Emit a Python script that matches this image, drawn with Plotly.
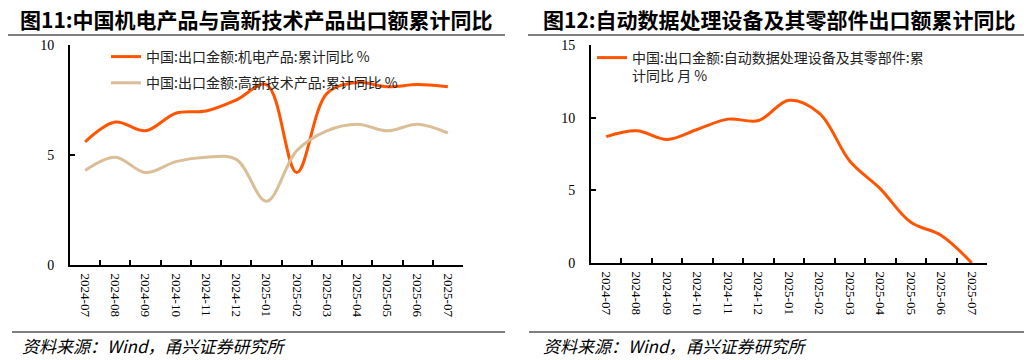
import plotly.graph_objects as go

months = ["2024-07", "2024-08", "2024-09", "2024-10", "2024-11", "2024-12",
          "2025-01", "2025-02", "2025-03", "2025-04", "2025-05", "2025-06", "2025-07"]

jidian = [5.6, 6.5, 6.1, 6.9, 7.0, 7.5, 8.2, 4.2, 7.8, 8.3, 8.1, 8.2, 8.1]
gaoxin = [4.3, 4.9, 4.2, 4.7, 4.9, 4.8, 2.9, 5.2, 6.1, 6.4, 6.1, 6.4, 6.0]
zidong = [8.7, 9.1, 8.5, 9.2, 9.9, 9.8, 11.2, 10.3, 7.0, 5.1, 2.8, 1.9, 0.0]

name1 = "中国:出口金额:机电产品:累计同比 %"
name2 = "中国:出口金额:高新技术产品:累计同比 %"
name3 = "中国:出口金额:自动数据处理设备及其零部件:累<br>计同比 月 %"

title1 = "图11:中国机电产品与高新技术产品出口额累计同比"
title2 = "图12:自动数据处理设备及其零部件出口额累计同比"
source = "资料来源：Wind，甬兴证券研究所"

ORANGE = "#FF5500"
TAN = "#D9BE97"
OFF = 8  # page body margin
W, H = 1032 - OFF, 360 - OFF
CJK = "Noto Sans CJK SC"
SERIF = "Liberation Serif"

fig = go.Figure()
fig.add_trace(go.Scatter(x=months, y=jidian, name=name1, mode="lines",
                         line=dict(color=ORANGE, width=3, shape="spline", smoothing=1.0),
                         xaxis="x", yaxis="y", legend="legend", legendgroup="a"))
fig.add_trace(go.Scatter(x=months, y=gaoxin, name=name2, mode="lines",
                         line=dict(color=TAN, width=3, shape="spline", smoothing=1.0),
                         xaxis="x", yaxis="y", legend="legend", legendgroup="b"))
fig.add_trace(go.Scatter(x=months, y=zidong, name=name3, mode="lines",
                         line=dict(color=ORANGE, width=3, shape="spline", smoothing=1.0),
                         xaxis="x2", yaxis="y2", legend="legend2"))

def px(v):
    return (v - OFF) / W

def py(v):
    return 1 - (v - OFF) / H

xcommon = dict(type="category", tickson="boundaries", ticks="inside", ticklen=5,
               tickwidth=2, tickcolor="black", showline=True, linecolor="black",
               linewidth=2, showgrid=False, zeroline=False, tickangle=90,
               range=[-0.5, 12.5], automargin=False, ticklabelstandoff=4,
               tickfont=dict(family=SERIF, size=13, color="black"), fixedrange=True)
ycommon = dict(ticks="inside", ticklen=5, tickwidth=2, tickcolor="black",
               showline=True, linecolor="black", linewidth=2, showgrid=False,
               zeroline=False, automargin=False, ticklabelstandoff=11,
               tickfont=dict(family=SERIF, size=14, color="black"),
               fixedrange=True)

fig.update_layout(
    template="none",
    width=W, height=H,
    margin=dict(l=0, r=0, t=0, b=0, pad=0, autoexpand=False),
    paper_bgcolor="white", plot_bgcolor="white",
    xaxis=dict(domain=[px(70), px(463)], anchor="y", **xcommon),
    yaxis=dict(domain=[py(265), py(45)], anchor="x", range=[0, 10],
               tickvals=[0, 5, 10], **ycommon),
    xaxis2=dict(domain=[px(591), px(987)], anchor="y2", **xcommon),
    yaxis2=dict(domain=[py(263), py(45)], anchor="x2", range=[0, 15],
                tickvals=[0, 5, 10, 15], **ycommon),
    legend=dict(x=px(106), y=py(41), xanchor="left", yanchor="top",
                bgcolor="rgba(0,0,0,0)", font=dict(family=CJK, size=14, color="#222"),
                tracegroupgap=5, traceorder="grouped"),
    legend2=dict(x=px(592), y=py(42), xanchor="left", yanchor="top",
                 bgcolor="rgba(0,0,0,0)", font=dict(family=CJK, size=14, color="#222"),
                 valign="top"),
    showlegend=True,
)

annotations = [
    dict(x=px(18), y=py(19), text="<b>" + title1 + "</b>", xanchor="left", yanchor="middle",
         font=dict(family=CJK, size=21, color="black")),
    dict(x=px(541), y=py(19), text="<b>" + title2 + "</b>", xanchor="left", yanchor="middle",
         font=dict(family=CJK, size=21, color="black")),
    dict(x=px(20), y=py(345), text="<i>" + source + "</i>", xanchor="left", yanchor="middle",
         font=dict(family=CJK, size=17, color="black")),
    dict(x=px(541), y=py(345), text="<i>" + source + "</i>", xanchor="left", yanchor="middle",
         font=dict(family=CJK, size=17, color="black")),
]
for a in annotations:
    a.update(xref="paper", yref="paper", showarrow=False)
fig.update_layout(annotations=annotations)

shapes = []
for x0, x1, y in [(8, 505, 35), (528, 1026, 35), (12, 505, 332), (529, 1026, 332)]:
    shapes.append(dict(type="line", xref="paper", yref="paper",
                       x0=px(x0), x1=px(x1), y0=py(y), y1=py(y),
                       line=dict(color="black", width=1.2)))
fig.update_layout(shapes=shapes)

fig.write_html("out.html")
